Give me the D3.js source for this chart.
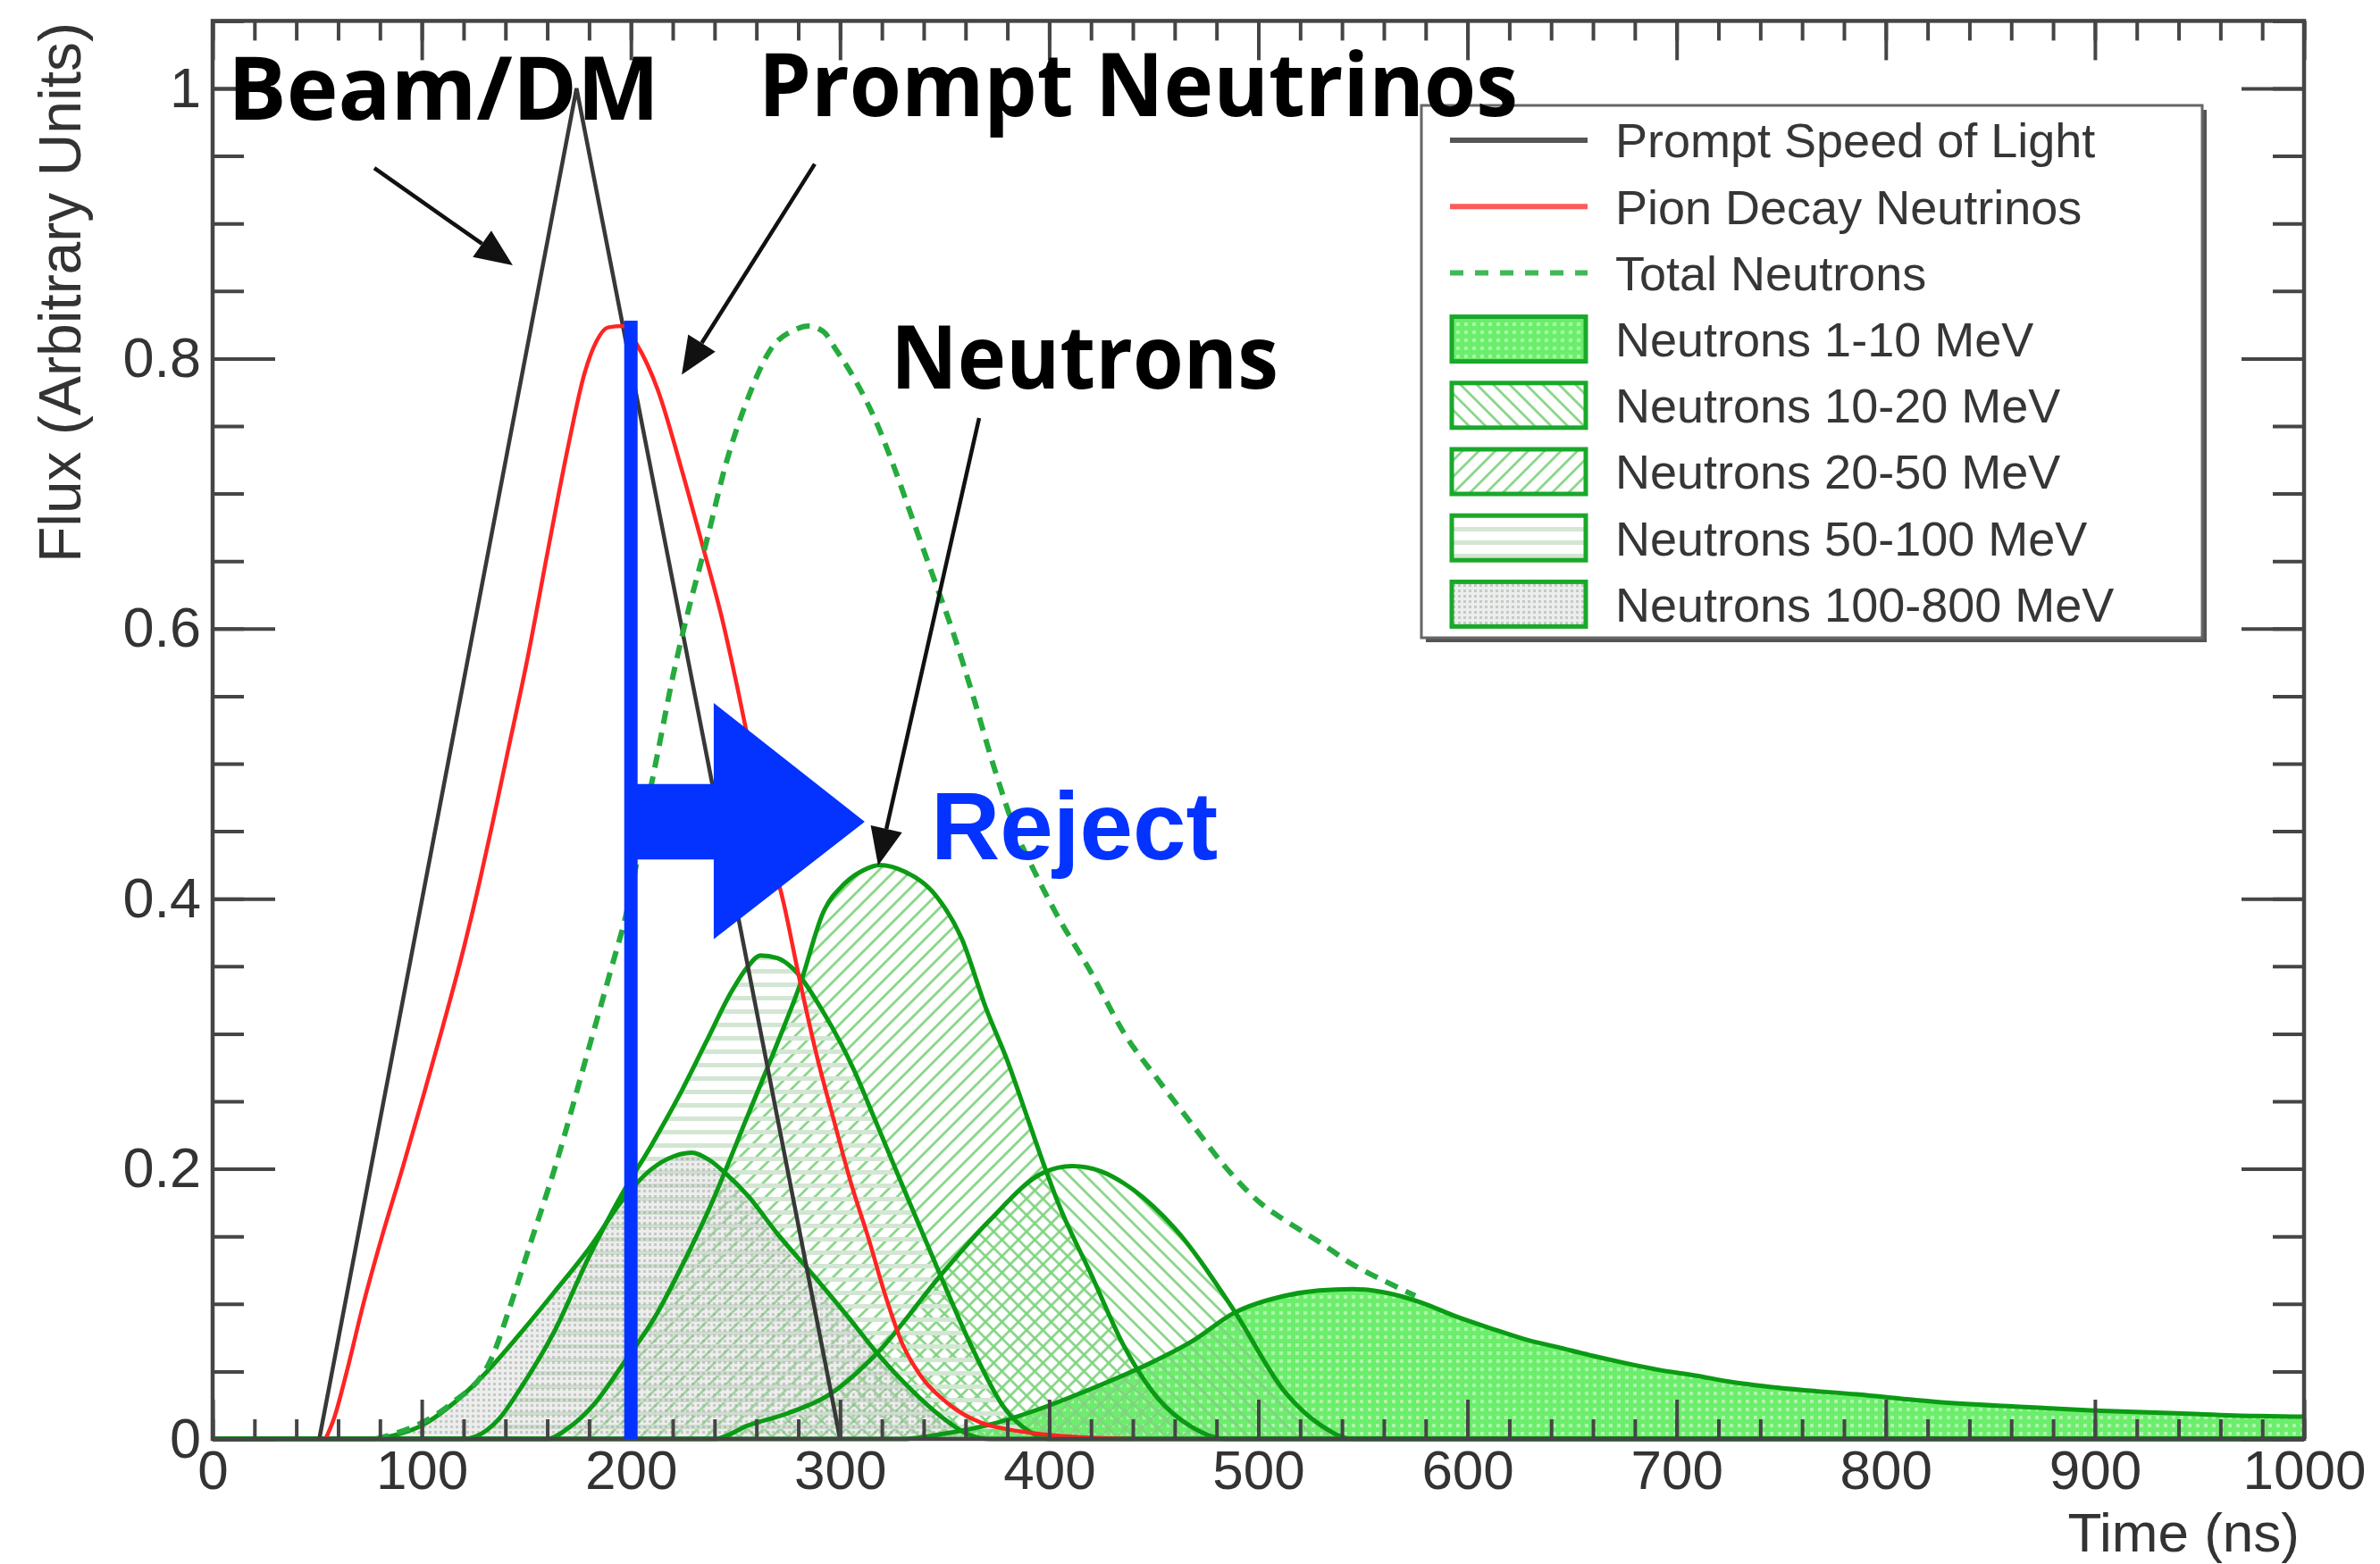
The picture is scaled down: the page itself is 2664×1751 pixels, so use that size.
<!DOCTYPE html>
<html>
<head>
<meta charset="utf-8">
<script src="https://cdn.jsdelivr.net/npm/d3@7"></script>
<style>
  body { margin: 0; background: #fff; }
  svg { display: block; }
  .tick text { font-family: "Liberation Sans", Arial, sans-serif; fill: #333; }
</style>
</head>
<body>
<div id="chart"></div>
<script>
/* DATA */
const xTicks = [0, 100, 200, 300, 400, 500, 600, 700, 800, 900, 1000];
const xMinor = d3.range(0, 1001, 20);
const yTicks = [0, 0.2, 0.4, 0.6, 0.8, 1];
const yMinor = d3.range(0, 1.051, 0.05);

// [time ns, flux]
const promptLight = [[51, 0], [174, 1.0], [300, 0]];

const pionNu = [[54, 0], [58, 0.015], [64, 0.049], [72, 0.0995], [81, 0.15], [90.7, 0.2], [100, 0.25],
  [110, 0.305], [120, 0.363], [128, 0.415], [134, 0.457], [141, 0.508], [150.7, 0.579], [160.2, 0.657],
  [170, 0.735], [177.8, 0.789], [183.6, 0.813], [189, 0.823], [196, 0.824], [203, 0.81], [212.8, 0.777],
  [224.4, 0.717], [234, 0.663], [243.8, 0.606], [251.5, 0.552], [259, 0.495], [267.3, 0.432], [273, 0.397],
  [280.8, 0.339], [289, 0.283], [297.2, 0.235], [305.3, 0.189], [313.5, 0.149], [321.7, 0.106],
  [329.9, 0.07], [338, 0.048], [351, 0.027], [367.5, 0.012], [380.5, 0.007], [400, 0.003], [440, 0]];

const totalNeutrons = [[78, 0], [100, 0.012], [114, 0.026], [134, 0.062], [142, 0.097], [152, 0.145],
  [163.5, 0.2], [180, 0.29], [190, 0.345], [199, 0.397], [206.9, 0.462], [212.7, 0.507], [220.4, 0.567],
  [228.2, 0.618], [235.9, 0.663], [245.6, 0.723], [255.3, 0.768], [266.9, 0.807], [278, 0.821],
  [285, 0.824], [292, 0.82], [297.9, 0.807], [307.6, 0.783], [317.3, 0.753], [325, 0.723], [334.7, 0.681],
  [344.4, 0.639], [354.1, 0.597], [363.8, 0.549], [373.5, 0.498], [383.2, 0.453], [393, 0.42], [403, 0.39],
  [419.8, 0.346], [436, 0.3], [452.5, 0.265], [468.8, 0.232], [485, 0.2], [501.5, 0.174], [512.6, 0.162],
  [529, 0.146], [545.3, 0.129], [561.6, 0.116], [575, 0.106]];

const n1to10 = [[0, 0], [330, 0], [350, 0.004], [370, 0.01], [395, 0.022], [420, 0.037], [444, 0.053],
  [469, 0.073], [488, 0.093], [512.6, 0.106], [529, 0.11], [545, 0.111], [562, 0.108], [578, 0.101],
  [594, 0.091], [611, 0.082], [627, 0.074], [643, 0.068], [660, 0.0615], [676, 0.056], [692, 0.051],
  [709, 0.047], [725, 0.0425], [748, 0.038], [786, 0.033], [824, 0.0275], [862, 0.024], [900, 0.021],
  [939, 0.019], [977, 0.017], [1000, 0.0165]];

const n10to20 = [[0, 0], [240, 0], [256, 0.01], [275, 0.019], [294, 0.032], [318, 0.064], [348, 0.121],
  [371, 0.161], [397, 0.197], [411, 0.202], [425, 0.198], [436, 0.189], [460, 0.156], [488, 0.096],
  [512.6, 0.035], [530, 0.01], [545, 0], [1000, 0]];

const n20to50 = [[0, 0], [160, 0], [170, 0.008], [182, 0.025], [196, 0.055], [212.5, 0.093], [225, 0.13],
  [237, 0.169], [256, 0.24], [270, 0.293], [281, 0.337], [292, 0.39], [302, 0.411], [311, 0.421],
  [319, 0.425], [331, 0.42], [346, 0.402], [358, 0.371], [370, 0.318], [380, 0.28], [390, 0.236],
  [397, 0.205], [405, 0.172], [420, 0.122], [436, 0.068], [452, 0.03], [468, 0.009], [485, 0], [1000, 0]];

const n50to100 = [[0, 0], [120, 0], [126, 0.002], [137, 0.015], [147, 0.037], [163.5, 0.08], [180, 0.135],
  [196, 0.182], [210, 0.218], [223, 0.254], [236, 0.294], [248, 0.331], [256, 0.35], [262, 0.358],
  [270, 0.356], [277, 0.349], [292, 0.316], [307, 0.272], [316, 0.239], [330, 0.187], [348, 0.121],
  [363, 0.068], [379, 0.022], [390, 0.006], [400, 0], [1000, 0]];

const n100to800 = [[0, 0], [75, 0], [90, 0.004], [100, 0.01], [114, 0.025], [130, 0.048], [147, 0.078],
  [163, 0.108], [180, 0.141], [196, 0.177], [210, 0.2], [220, 0.209], [229, 0.212], [238, 0.206],
  [245, 0.197], [256, 0.18], [270, 0.152], [289, 0.118], [304, 0.09], [318, 0.063], [333, 0.038],
  [348, 0.017], [362, 0.003], [372, 0], [1000, 0]];

const legendLabels = ["Prompt Speed of Light", "Pion Decay Neutrinos", "Total Neutrons",
  "Neutrons 1-10 MeV", "Neutrons 10-20 MeV", "Neutrons 20-50 MeV", "Neutrons 50-100 MeV",
  "Neutrons 100-800 MeV"];

/* CONSTANTS */
const width = 2664, height = 1751;
const margin = { left: 238, right: 85, top: 23, bottom: 140 };
const green = "#0b9a14";

const svg = d3.select("#chart").append("svg")
  .attr("width", width).attr("height", height);
svg.append("rect").attr("width", width).attr("height", height).attr("fill", "#fff");

const x = d3.scaleLinear().domain([0, 1000]).range([margin.left, width - margin.right]);
const y = d3.scaleLinear().domain([0, 1]).range([1611, 99]);
const yTop = y(1.05);

/* PATTERNS */
const defs = svg.append("defs");
defs.append("clipPath").attr("id", "plot")
  .append("rect").attr("x", x(0)).attr("y", yTop).attr("width", x(1000) - x(0)).attr("height", y(0) - yTop + 3);

const p1 = defs.append("pattern").attr("id", "pat1").attr("patternUnits", "userSpaceOnUse")
  .attr("width", 9).attr("height", 9);
p1.append("rect").attr("width", 9).attr("height", 9).attr("fill", "#6cee6c");
p1.append("rect").attr("x", 1).attr("y", 1).attr("width", 4).attr("height", 4).attr("fill", "#a9f6a9");

function hatch(id, angle, color, w, gap) {
  const p = defs.append("pattern").attr("id", id).attr("patternUnits", "userSpaceOnUse")
    .attr("width", gap).attr("height", gap).attr("patternTransform", `rotate(${angle})`);
  p.append("line").attr("x1", gap / 2).attr("y1", 0).attr("x2", gap / 2).attr("y2", gap)
    .attr("stroke", color).attr("stroke-width", w);
}
hatch("pat2", -45, "#7fd37f", 2.6, 13);
hatch("pat3", 45, "#7fd37f", 2.6, 13);
hatch("pat4", 90, "#d3e6d3", 5, 15);

const p5 = defs.append("pattern").attr("id", "pat5").attr("patternUnits", "userSpaceOnUse")
  .attr("width", 6).attr("height", 6);
p5.append("rect").attr("width", 6).attr("height", 6).attr("fill", "rgba(200,204,200,0.35)");
p5.append("rect").attr("width", 3).attr("height", 3).attr("fill", "rgba(150,160,150,0.45)");

/* NEUTRON FILLS */
const neutrons = [
  { data: n1to10, fill: "url(#pat1)" },
  { data: n10to20, fill: "url(#pat2)" },
  { data: n20to50, fill: "url(#pat3)" },
  { data: n50to100, fill: "url(#pat4)" },
  { data: n100to800, fill: "url(#pat5)" },
];

const area = d3.area().x(d => x(d[0])).y0(y(0)).y1(d => y(d[1])).curve(d3.curveMonotoneX);
const line = d3.line().x(d => x(d[0])).y(d => y(d[1])).curve(d3.curveMonotoneX);

const plot = svg.append("g").attr("clip-path", "url(#plot)");
plot.selectAll("path.fill").data(neutrons).join("path")
  .attr("class", "fill").attr("d", d => area(d.data)).attr("fill", d => d.fill);

/* AXES */
const tickColor = "#454545";
function styleAxis(g) {
  g.select(".domain").remove();
  g.selectAll(".tick line").attr("stroke", tickColor).attr("stroke-width", 4);
}
svg.append("g").attr("transform", `translate(0,${y(0)})`)
  .call(d3.axisBottom(x).tickValues(xMinor).tickSize(-22).tickFormat("")).call(styleAxis);
svg.append("g").attr("transform", `translate(0,${y(0)})`)
  .call(d3.axisBottom(x).tickValues(xTicks).tickSize(-44).tickPadding(12).tickFormat(d3.format("d")))
  .call(styleAxis)
  .call(g => g.selectAll("text").attr("font-size", 62));
svg.append("g").attr("transform", `translate(0,${yTop})`)
  .call(d3.axisTop(x).tickValues(xMinor).tickSize(-22).tickFormat("")).call(styleAxis);
svg.append("g").attr("transform", `translate(0,${yTop})`)
  .call(d3.axisTop(x).tickValues(xTicks).tickSize(-44).tickFormat("")).call(styleAxis);

svg.append("g").attr("transform", `translate(${x(0)},0)`)
  .call(d3.axisLeft(y).tickValues(yMinor).tickSize(-35).tickFormat("")).call(styleAxis);
svg.append("g").attr("transform", `translate(${x(0)},0)`)
  .call(d3.axisLeft(y).tickValues(yTicks).tickSize(-70).tickPadding(13)
    .tickFormat(d => d === 0 ? "0" : d3.format(".1~f")(d)))
  .call(styleAxis)
  .call(g => g.selectAll("text").attr("font-size", 63));
svg.append("g").attr("transform", `translate(${x(1000)},0)`)
  .call(d3.axisRight(y).tickValues(yMinor).tickSize(-35).tickFormat("")).call(styleAxis);
svg.append("g").attr("transform", `translate(${x(1000)},0)`)
  .call(d3.axisRight(y).tickValues(yTicks).tickSize(-70).tickFormat("")).call(styleAxis);

svg.append("rect").attr("x", x(0)).attr("y", yTop).attr("width", x(1000) - x(0)).attr("height", y(0) - yTop)
  .attr("fill", "none").attr("stroke", tickColor).attr("stroke-width", 4.5);

svg.append("text").attr("x", 2574).attr("y", 1737).attr("text-anchor", "end")
  .attr("font-family", "Liberation Sans, Arial, sans-serif").attr("font-size", 62).attr("fill", "#333")
  .text("Time (ns)");
svg.append("text").attr("transform", `translate(90,25) rotate(-90)`).attr("text-anchor", "end")
  .attr("font-family", "Liberation Sans, Arial, sans-serif").attr("font-size", 66).attr("fill", "#333")
  .text("Flux (Arbitrary Units)");

/* CURVES */
plot.selectAll("path.outline").data(neutrons).join("path")
  .attr("class", "outline").attr("d", d => line(d.data))
  .attr("fill", "none").attr("stroke", green).attr("stroke-width", 5);

plot.append("path").attr("d", d3.line().x(d => x(d[0])).y(d => y(d[1]))(promptLight))
  .attr("fill", "none").attr("stroke", "#383838").attr("stroke-width", 4.5);
plot.append("path").attr("d", line(pionNu))
  .attr("fill", "none").attr("stroke", "#ff2424").attr("stroke-width", 4.5);
plot.append("path").attr("d", line(totalNeutrons))
  .attr("fill", "none").attr("stroke", "#25ab3e").attr("stroke-width", 6).attr("stroke-dasharray", "15,10");

/* LEGEND */
const lg = svg.append("g");
const lx0 = 1591, ly0 = 118, lx1 = 2465, ly1 = 714;
lg.append("rect").attr("x", lx0 + 5).attr("y", ly0 + 5).attr("width", lx1 - lx0).attr("height", ly1 - ly0)
  .attr("fill", "#555");
lg.append("rect").attr("x", lx0).attr("y", ly0).attr("width", lx1 - lx0).attr("height", ly1 - ly0)
  .attr("fill", "#fff").attr("stroke", "#666").attr("stroke-width", 3);
const legendStyle = [
  { kind: "line", color: "#555", dash: null },
  { kind: "line", color: "#ff5a5a", dash: null },
  { kind: "line", color: "#3fb955", dash: "15,13" },
  { kind: "box", fill: "url(#pat1)" },
  { kind: "box", fill: "url(#pat2)" },
  { kind: "box", fill: "url(#pat3)" },
  { kind: "box", fill: "url(#pat4)" },
  { kind: "box", fill: "url(#pat5)" },
];
const rowY = i => 157 + i * 74.2;
legendLabels.forEach((lab, i) => {
  const s = legendStyle[i], cy = rowY(i);
  if (s.kind === "line") {
    lg.append("line").attr("x1", 1623).attr("x2", 1777).attr("y1", cy).attr("y2", cy)
      .attr("stroke", s.color).attr("stroke-width", 6).attr("stroke-dasharray", s.dash);
  } else {
    lg.append("rect").attr("x", 1625).attr("y", cy - 25).attr("width", 150).attr("height", 50)
      .attr("fill", s.fill).attr("stroke", "#1aa82a").attr("stroke-width", 5);
  }
  lg.append("text").attr("x", 1808).attr("y", cy).attr("dy", "0.36em")
    .attr("font-family", "Liberation Sans, Arial, sans-serif").attr("font-size", 54).attr("fill", "#363636")
    .text(lab);
});

/* ANNOTATIONS */
const cutTime = 200, cutTop = 0.828;
const ann = svg.append("g");
ann.append("line").attr("x1", x(cutTime)).attr("x2", x(cutTime)).attr("y1", y(cutTop)).attr("y2", y(0))
  .attr("stroke", "#0433ff").attr("stroke-width", 15);
const shaft = { t0: cutTime, t1: 239.6, yHi: 0.485, yLo: 0.429 };
const head = { t: 239.6, yHi: 0.545, yLo: 0.37, tipT: 311.8, tipY: 0.457 };
ann.append("path")
  .attr("d", `M${x(shaft.t0)},${y(shaft.yHi)}H${x(shaft.t1)}V${y(head.yHi)}L${x(head.tipT)},${y(head.tipY)}` +
    `L${x(head.t)},${y(head.yLo)}V${y(shaft.yLo)}H${x(shaft.t0)}Z`)
  .attr("fill", "#0433ff");
ann.append("text").attr("x", x(343.4)).attr("y", y(0.429))
  .attr("font-family", "Liberation Sans, Arial, sans-serif").attr("font-weight", 700).attr("font-size", 107)
  .attr("fill", "#0433ff").text("Reject");

function arrow(t1, v1, t2, v2) {
  const x1 = x(t1), y1 = y(v1), x2 = x(t2), y2 = y(v2);
  const a = Math.atan2(y2 - y1, x2 - x1), len = 42, half = 18;
  const bx = x2 - len * Math.cos(a), by = y2 - len * Math.sin(a);
  const px = -Math.sin(a) * half, py = Math.cos(a) * half;
  ann.append("line").attr("x1", x1).attr("y1", y1).attr("x2", bx).attr("y2", by)
    .attr("stroke", "#111").attr("stroke-width", 4.5);
  ann.append("path").attr("d", `M${x2},${y2}L${bx + px},${by + py}L${bx - px},${by - py}Z`).attr("fill", "#111");
}
arrow(77.3, 0.941, 143.5, 0.869);
arrow(287.9, 0.944, 224.3, 0.788);
arrow(366.5, 0.756, 318.2, 0.4246);

const notes = [
  { text: "Beam/DM", t: 7.3, v: 0.977, len: 483 },
  { text: "Prompt Neutrinos", t: 261, v: 0.9795, len: 850 },
  { text: "Neutrons", t: 324.2, v: 0.778, len: 434 },
];
ann.selectAll("text.note").data(notes).join("text").attr("class", "note")
  .attr("x", d => x(d.t)).attr("y", d => y(d.v))
  .attr("font-family", "Open Sans, Noto Sans, sans-serif").attr("font-weight", 700).attr("font-size", 98)
  .attr("textLength", d => d.len).attr("lengthAdjust", "spacingAndGlyphs")
  .attr("fill", "#000").text(d => d.text);
</script>
</body>
</html>
